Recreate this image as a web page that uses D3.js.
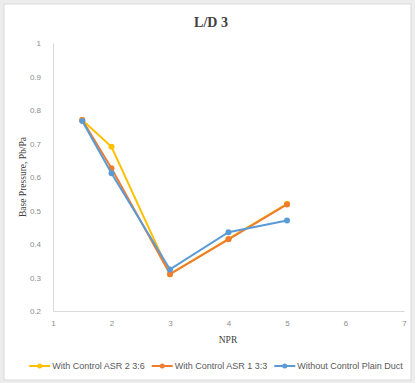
<!DOCTYPE html>
<html>
<head>
<meta charset="utf-8">
<script src="https://cdn.jsdelivr.net/npm/d3@7"></script>
<style>
body { margin: 0; background: #fff; }
</style>
</head>
<body>
<div id="chart"></div>
<script>
var npr = [1.5, 2, 3, 4, 5];
var seriesNames = ["With Control ASR 2 3:6", "With Control ASR 1 3:3", "Without Control Plain Duct"];
var asr2 = [0.77, 0.69, 0.31, 0.415, 0.52];
var asr1 = [0.77, 0.626, 0.31, 0.414, 0.518];
var plain = [0.767, 0.611, 0.324, 0.435, 0.47];
var xTicks = [1, 2, 3, 4, 5, 6, 7];
var yTicks = [0.2, 0.3, 0.4, 0.5, 0.6, 0.7, 0.8, 0.9, 1];
var colors = ["#FFC000", "#ED7D31", "#5B9BD5"];

var W = 415, H = 383;
var svg = d3.select("#chart").append("svg")
    .attr("width", W)
    .attr("height", H);

// frame
svg.append("rect").attr("width", W).attr("height", H).attr("fill", "#ededed");
svg.append("rect")
    .attr("x", 4).attr("y", 4)
    .attr("width", 407).attr("height", 376)
    .attr("fill", "#fff")
    .attr("stroke", "#d9d9d9");

var x = d3.scaleLinear().domain([1, 7]).range([53, 404]);
var y = d3.scaleLinear().domain([0.2, 1]).range([311, 43]);

// axes
var xAxis = svg.append("g")
    .attr("transform", "translate(0,311)")
    .call(d3.axisBottom(x).tickValues(xTicks).tickSize(0).tickPadding(9).tickFormat(d3.format("d")));
var yAxis = svg.append("g")
    .attr("transform", "translate(53,0)")
    .call(d3.axisLeft(y).tickValues(yTicks).tickSize(0).tickPadding(12).tickFormat(function(d){ return d === 1 ? "1" : d3.format(".1f")(d); }));

[xAxis, yAxis].forEach(function(a){
    a.select(".domain").attr("stroke", "#d9d9d9").attr("stroke-width", 1);
    a.selectAll("text")
        .attr("fill", "#8c8c8c")
        .attr("font-family", "Liberation Sans, Arial, sans-serif")
        .attr("font-size", 8);
});

// title
svg.append("text")
    .attr("x", 211).attr("y", 27)
    .attr("text-anchor", "middle")
    .attr("font-family", "Liberation Serif, Times New Roman, serif")
    .attr("font-weight", "bold")
    .attr("font-size", 14)
    .attr("fill", "#404040")
    .text("L/D 3");

// axis labels
svg.append("text")
    .attr("x", 228).attr("y", 343)
    .attr("text-anchor", "middle")
    .attr("font-family", "Liberation Serif, Times New Roman, serif")
    .attr("font-size", 9.5)
    .attr("fill", "#404040")
    .text("NPR");

svg.append("text")
    .attr("transform", "translate(26,177) rotate(-90)")
    .attr("text-anchor", "middle")
    .attr("font-family", "Liberation Serif, Times New Roman, serif")
    .attr("font-size", 9.5)
    .attr("fill", "#404040")
    .text("Base Pressure, Pb/Pa");

// series
var data = [asr2, asr1, plain];
var line = d3.line()
    .x(function(d, i){ return x(npr[i]); })
    .y(function(d){ return y(d); });

data.forEach(function(vals, k){
    svg.append("path")
        .datum(vals)
        .attr("d", line)
        .attr("fill", "none")
        .attr("stroke", colors[k])
        .attr("stroke-width", 2);
    svg.append("g")
        .selectAll("circle")
        .data(vals)
        .join("circle")
        .attr("cx", function(d, i){ return x(npr[i]); })
        .attr("cy", function(d){ return y(d); })
        .attr("r", 3)
        .attr("fill", colors[k]);
});

// legend, laid out one after another and centred
var leg = svg.append("g");
var cursor = 0;
seriesNames.forEach(function(name, k){
    var g = leg.append("g").attr("transform", "translate(" + cursor + ",0)");
    g.append("line").attr("x1", 0).attr("x2", 21).attr("y1", 0).attr("y2", 0)
        .attr("stroke", colors[k]).attr("stroke-width", 2);
    g.append("circle").attr("cx", 10.5).attr("cy", 0).attr("r", 2.5).attr("fill", colors[k]);
    var t = g.append("text")
        .attr("x", 23).attr("y", 3)
        .attr("font-family", "Liberation Sans, Arial, sans-serif")
        .attr("font-size", 9)
        .attr("fill", "#595959")
        .text(name);
    cursor += 23 + t.node().getComputedTextLength() + 7;
});
leg.attr("transform", "translate(" + (216 - (cursor - 7) / 2) + ",366)");
</script>
</body>
</html>
